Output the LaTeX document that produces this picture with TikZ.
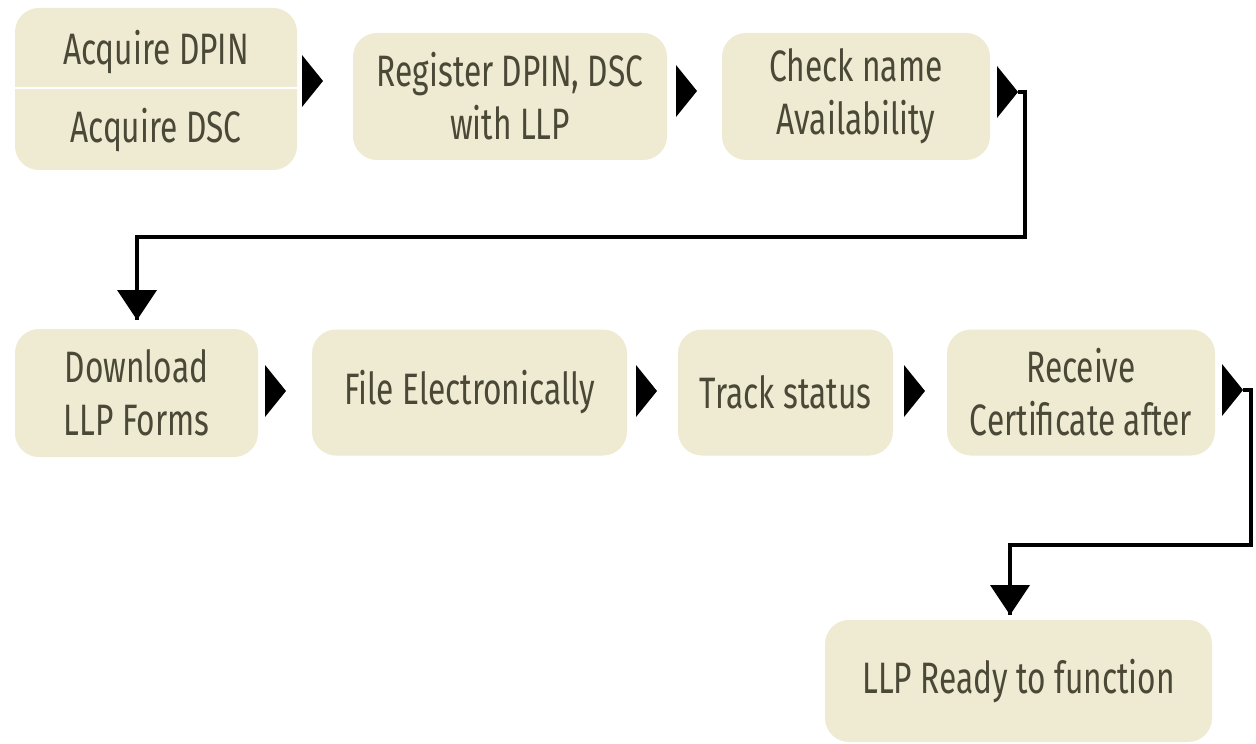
\documentclass[tikz,border=0pt]{standalone}
\usepackage{fontspec}
\setmainfont[FakeStretch=0.72]{Fira Sans}
\usetikzlibrary{calc}
\definecolor{boxfill}{HTML}{EFEAD2}
\definecolor{boxtext}{HTML}{4A4836}
\newcommand\headright[1]{\fill (#1) -- ++(-21,-26) -- ++(0,52) -- cycle;}
\newcommand\headdown[1]{\fill (#1) -- ++(-20,-30) -- ++(40,0) -- cycle;}
\begin{document}
\begin{tikzpicture}[x=0.5pt,y=-0.5pt,
  stepbox/.style={fill=boxfill,rounded corners=12pt,inner sep=0pt,
    text=boxtext,align=center,font=\fontsize{22}{26.5}\selectfont},
  link/.style={line width=1.6pt,black}]
\useasboundingbox (0,0) rectangle (1256,743);

% first row
\node[stepbox,minimum width=141pt,minimum height=81pt] (acq) at (156,89) {};
\draw[white,line width=1.2pt] (15,88) -- (297,88);
\node[text=boxtext,font=\fontsize{22}{26.5}\selectfont] (dpin) at (156,52) {Acquire DPIN};
\node[text=boxtext,font=\fontsize{22}{26.5}\selectfont] (dsc) at (156,130) {Acquire DSC};
\node[stepbox,minimum width=157pt,minimum height=63.5pt] (reg) at (510,96.5) {Register DPIN, DSC\\with LLP};
\node[stepbox,minimum width=134pt,minimum height=63.5pt] (chk) at (856,96.5) {Check name\\Availability};

% second row
\node[stepbox,minimum width=121.5pt,minimum height=64pt] (dl) at (136.5,393) {Download\\LLP Forms};
\node[stepbox,minimum width=157.5pt,minimum height=63pt] (file) at (469.5,392.5) {File Electronically};
\node[stepbox,minimum width=107.5pt,minimum height=63pt] (trk) at (785.5,392.5) {Track status};
\node[stepbox,minimum width=134pt,minimum height=63pt] (rcv) at (1081,392.5) {Receive\\Certificate after};

% last step
\node[stepbox,minimum width=193.5pt,minimum height=61pt] (ready) at (1018.5,681) {LLP Ready to function};

% arrow heads between neighbouring steps
\coordinate (h1) at (323,81);
\coordinate (h2) at (697,91);
\coordinate (h3) at (1018,92);
\coordinate (h4) at (286,391);
\coordinate (h5) at (657,391);
\coordinate (h6) at (925,391);
\coordinate (h7) at (1243,390);
\headright{h1}
\headright{h2}
\headright{h3}
\headright{h4}
\headright{h5}
\headright{h6}
\headright{h7}

% wrap-around connectors
\coordinate (d1) at (137,320);
\coordinate (d2) at (1010,615);
\draw[link] (h3) -- (1025,92) -- (1025,237) -| (d1);
\headdown{d1}
\draw[link] (h7) -- (1251,390) -- (1251,545) -| (d2);
\headdown{d2}
\end{tikzpicture}
\end{document}
